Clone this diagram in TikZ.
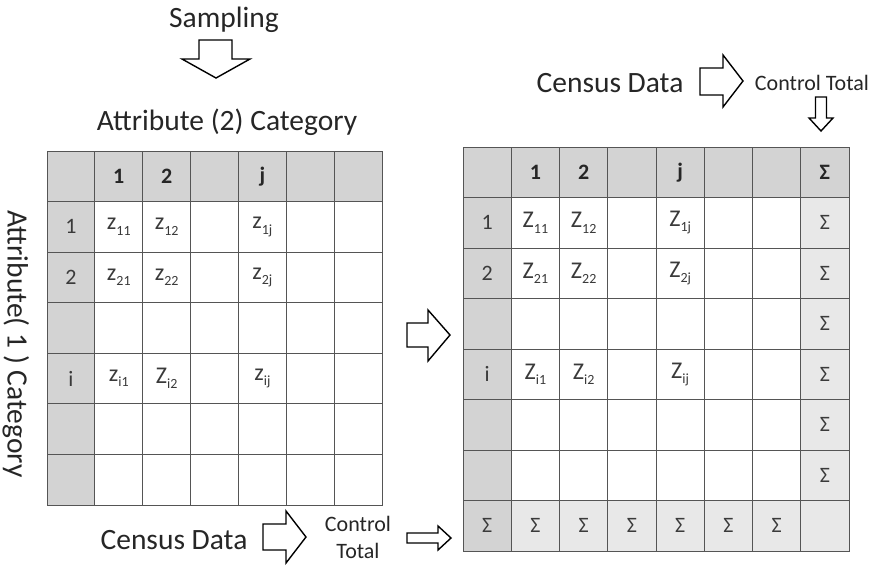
\documentclass[tikz,border=0pt]{standalone}
\usepackage{fontspec}
\setmainfont{Carlito}
\definecolor{gridc}{HTML}{555555}
\definecolor{hdr}{HTML}{D3D3D3}
\definecolor{tot}{HTML}{E8E8E8}
\definecolor{ink}{HTML}{262626}
\definecolor{celltxt}{HTML}{3A3A3A}
\newcommand{\fs}[1]{\fontsize{#1}{#1}\selectfont}
% entry with a lowered small index
\newcommand{\ent}[2]{#1\raisebox{-0.22em}{\fs{14}#2}}
\begin{document}
\begin{tikzpicture}[x=1pt,y=-1pt,
  lcell/.style={draw=gridc, line width=0.9pt, minimum width=47.857pt, minimum height=50.571pt, inner sep=0pt},
  rcell/.style={draw=gridc, line width=0.9pt, minimum width=48.25pt, minimum height=50.5pt, inner sep=0pt},
  lbl/.style={text=ink, inner sep=0pt, font=\fs{29.5}},
  small/.style={text=ink, inner sep=0pt, font=\fs{22}, align=center},
  hd/.style={text=ink, inner sep=0pt, font=\fs{22}\bfseries},
  rl/.style={text=celltxt, inner sep=0pt, font=\fs{22}},
  zz/.style={text=celltxt, inner sep=0pt, font=\fs{24}},
  sig/.style={text=celltxt, inner sep=0pt, font=\fs{22}},
  blockarrow/.style={draw=black, line width=1.4pt, fill=white, line join=miter}]
\useasboundingbox (0,0) rectangle (877,566);

% ---------- sample table ----------
\foreach \r in {0,...,6}{
  \foreach \c in {0,...,6}{
    \ifnum\r=0 \def\cf{hdr}\else\ifnum\c=0 \def\cf{hdr}\else\def\cf{white}\fi\fi
    \node[lcell, fill=\cf] (L-\r-\c) at ({47+(\c+0.5)*47.857},{151+(\r+0.5)*50.571}) {};
  }
}
\node[hd] (Lh1) at (L-0-1) {1};
\node[hd] (Lh2) at (L-0-2) {2};
\node[hd] (Lhj) at (L-0-4) {j};
\node[rl] (Lr1) at (L-1-0) {1};
\node[rl] (Lr2) at (L-2-0) {2};
\node[rl] (Lri) at (L-4-0) {i};
\node[zz] (Lz11) at (L-1-1) {\ent{z}{11}};
\node[zz] (Lz12) at (L-1-2) {\ent{z}{12}};
\node[zz] (Lz1j) at (L-1-4) {\ent{z}{1j}};
\node[zz] (Lz21) at (L-2-1) {\ent{z}{21}};
\node[zz] (Lz22) at (L-2-2) {\ent{z}{22}};
\node[zz] (Lz2j) at (L-2-4) {\ent{z}{2j}};
\node[zz] (Lzi1) at (L-4-1) {\ent{z}{i1}};
\node[zz] (Lzi2) at (L-4-2) {\ent{Z}{i2}};
\node[zz] (Lzij) at (L-4-4) {\ent{z}{ij}};

% ---------- adjusted table with margins ----------
\foreach \r in {0,...,7}{
  \foreach \c in {0,...,7}{
    \ifnum\r=0 \def\cf{hdr}\else\ifnum\c=0 \def\cf{hdr}\else
      \ifnum\r=7 \def\cf{tot}\else\ifnum\c=7 \def\cf{tot}\else\def\cf{white}\fi\fi\fi\fi
    \node[rcell, fill=\cf] (R-\r-\c) at ({463+(\c+0.5)*48.25},{147+(\r+0.5)*50.5}) {};
  }
}
\node[hd] (Rh1) at (R-0-1) {1};
\node[hd] (Rh2) at (R-0-2) {2};
\node[hd] (Rhj) at (R-0-4) {j};
\node[hd] (Rhs) at (R-0-7) {Σ};
\node[rl] (Rr1) at (R-1-0) {1};
\node[rl] (Rr2) at (R-2-0) {2};
\node[rl] (Rri) at (R-4-0) {i};
\node[zz] (Rz11) at (R-1-1) {\ent{Z}{11}};
\node[zz] (Rz12) at (R-1-2) {\ent{Z}{12}};
\node[zz] (Rz1j) at (R-1-4) {\ent{Z}{1j}};
\node[zz] (Rz21) at (R-2-1) {\ent{Z}{21}};
\node[zz] (Rz22) at (R-2-2) {\ent{Z}{22}};
\node[zz] (Rz2j) at (R-2-4) {\ent{Z}{2j}};
\node[zz] (Rzi1) at (R-4-1) {\ent{Z}{i1}};
\node[zz] (Rzi2) at (R-4-2) {\ent{Z}{i2}};
\node[zz] (Rzij) at (R-4-4) {\ent{Z}{ij}};
\foreach \r in {1,...,6}{\node[sig] (Rs-\r) at (R-\r-7) {Σ};}
\foreach \c in {0,...,6}{\node[sig] (Rb-\c) at (R-7-\c) {Σ};}

% ---------- labels ----------
\node[lbl] (sampling) at (224,20) {Sampling};
\node[lbl] (attr2) at (227,122) {Attribute (2) Category};
\node[lbl, rotate=-90] (attr1) at (16,344) {Attribute( 1 ) Category};
\node[lbl] (censusT) at (610,83) {Census Data};
\node[small] (ctrlT) at (812,83) {Control Total};
\node[lbl] (censusB) at (174,540) {Census Data};
\node[small] (ctrlB) at (358,537) {Control\\[5pt]Total};

% ---------- block arrows ----------
% sampling, pointing down
\draw[blockarrow] (199,40) -- (232,40) -- (232,59) -- (250,59) -- (216,78) -- (182,59) -- (199,59) -- cycle;
% census data (top), pointing right
\draw[blockarrow] (700,68) -- (723,68) -- (723,55) -- (743,81) -- (723,107) -- (723,95) -- (700,95) -- cycle;
% control total into the margin column
\draw[blockarrow] (815.5,97) -- (826.5,97) -- (826.5,118) -- (833,118) -- (821,131) -- (809,118) -- (815.5,118) -- cycle;
% census data (bottom), pointing right
\draw[blockarrow] (263,524) -- (286,524) -- (286,511) -- (306,537) -- (286,563) -- (286,550) -- (263,550) -- cycle;
% control total into the margin row
\draw[blockarrow] (407,533) -- (438,533) -- (438,526) -- (451,538) -- (438,550) -- (438,543) -- (407,543) -- cycle;
% sample table to adjusted table
\draw[blockarrow] (407,323) -- (428,323) -- (428,310) -- (450,335) -- (428,361) -- (428,347) -- (407,347) -- cycle;
\end{tikzpicture}
\end{document}
